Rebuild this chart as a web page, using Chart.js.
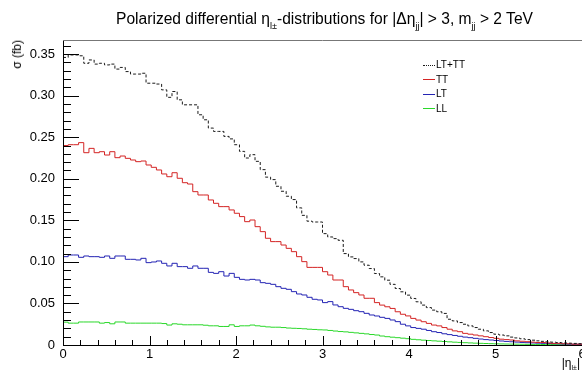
<!DOCTYPE html>
<html>
<head>
<meta charset="utf-8">
<script src="https://cdn.jsdelivr.net/npm/chart.js@4"></script>
<style>
  body { margin: 0; background: #fff; }
  #wrap { position: relative; width: 582px; height: 373px; overflow: hidden; font-family: "Liberation Sans", Arial, sans-serif; color: #000; }
  #wrap canvas { position: absolute; left: 0; top: 0; }
  .title { position: absolute; left: 65px; width: 519px; top: 11px; text-align: center; font-size: 15.6px; line-height: 15px; white-space: nowrap; }
  .title sub, .xtitle sub { font-size: 58%; line-height: 0; vertical-align: -0.5em; }
  .ytitle { position: absolute; left: 10px; top: 40px; font-size: 12px; line-height: 14px; writing-mode: vertical-rl; transform: rotate(180deg); white-space: nowrap; }
  .xtitle { position: absolute; right: 2px; top: 357px; font-size: 12px; line-height: 13px; white-space: nowrap; }
  .legend { position: absolute; left: 423px; top: 58px; font-size: 10px; line-height: 14.5px; }
  .legend .swatch { display: inline-block; width: 12px; height: 0; border-top-width: 1px; vertical-align: middle; margin-right: 1px; }
</style>
</head>
<body>
<div id="wrap">
  <canvas id="etaChart" width="582" height="373"></canvas>
  <div class="title">Polarized differential &eta;<sub>l&plusmn;</sub>-distributions for |&Delta;&eta;<sub>jj</sub>| &gt; 3, m<sub>jj</sub> &gt; 2 TeV</div>
  <div class="ytitle">&sigma; (fb)</div>
  <div class="xtitle">|&eta;<sub>l&plusmn;</sub>|</div>
  <div class="legend" id="legend"></div>
</div>
<script>
// histogram: 100 bins of width 0.06 between |eta| = 0 and 6
const binWidth = 0.06;

const ltPlusTT = [
  0.346, 0.349, 0.349, 0.348, 0.339, 0.343, 0.338, 0.339, 0.337, 0.338,
  0.332, 0.334, 0.329, 0.326, 0.326, 0.327, 0.315, 0.315, 0.314, 0.307,
  0.298, 0.305, 0.295, 0.289, 0.289, 0.289, 0.277, 0.271, 0.261, 0.257,
  0.257, 0.251, 0.248, 0.241, 0.233, 0.225, 0.229, 0.221, 0.211, 0.202,
  0.199, 0.191, 0.185, 0.179, 0.175, 0.165, 0.156, 0.149, 0.148, 0.148,
  0.134, 0.130, 0.128, 0.126, 0.110, 0.106, 0.104, 0.100, 0.096, 0.092,
  0.086, 0.082, 0.078, 0.073, 0.068, 0.064, 0.060, 0.056, 0.052, 0.048,
  0.045, 0.042, 0.040, 0.038, 0.031, 0.029, 0.027, 0.025, 0.023, 0.021,
  0.019, 0.017, 0.015, 0.013, 0.012, 0.011, 0.0095, 0.0085, 0.0075, 0.0065,
  0.0058, 0.005, 0.0044, 0.0038, 0.0034, 0.003, 0.0026, 0.0022, 0.0019, 0.0016
];

const tt = [
  0.240, 0.241, 0.241, 0.2435, 0.2314, 0.2366, 0.2314, 0.2326, 0.2286, 0.2326,
  0.2254, 0.2274, 0.2246, 0.2226, 0.2206, 0.2214, 0.2166, 0.2138, 0.2106, 0.2058,
  0.2025, 0.2073, 0.2006, 0.1953, 0.1937, 0.1845, 0.1805, 0.1805, 0.1745, 0.1705,
  0.1665, 0.1665, 0.1625, 0.1585, 0.1545, 0.1484, 0.1504, 0.1424, 0.1364, 0.1284,
  0.1244, 0.1244, 0.1203, 0.1163, 0.1123, 0.1063, 0.1003, 0.0934, 0.0934, 0.0934,
  0.0882, 0.0842, 0.0782, 0.0782, 0.0702, 0.0662, 0.0630, 0.0602, 0.0562, 0.0562,
  0.0510, 0.048, 0.046, 0.044, 0.040, 0.037, 0.035, 0.032, 0.030, 0.028,
  0.026, 0.024, 0.023, 0.021, 0.019, 0.017, 0.016, 0.014, 0.013, 0.012,
  0.011, 0.010, 0.009, 0.008, 0.007, 0.0065, 0.006, 0.005, 0.0045, 0.004,
  0.0035, 0.003, 0.003, 0.0025, 0.002, 0.002, 0.0015, 0.0015, 0.001, 0.001
];

const lt = [
  0.1063, 0.1083, 0.1083, 0.1055, 0.1071, 0.1063, 0.1063, 0.1055, 0.1071, 0.1043,
  0.1071, 0.1071, 0.1031, 0.1031, 0.1023, 0.1043, 0.0991, 0.0999, 0.1011, 0.0983,
  0.0951, 0.0983, 0.0943, 0.0943, 0.0923, 0.0951, 0.0923, 0.0923, 0.0874, 0.0862,
  0.0882, 0.0830, 0.0862, 0.0814, 0.0790, 0.0782, 0.0790, 0.0782, 0.0750, 0.0742,
  0.0730, 0.0702, 0.0682, 0.0670, 0.0642, 0.0614, 0.0602, 0.0574, 0.0550, 0.0542,
  0.0510, 0.0522, 0.0482, 0.0461, 0.0441, 0.0429, 0.0413, 0.0401, 0.0381, 0.0361,
  0.0349, 0.0333, 0.0320, 0.0301, 0.0281, 0.025, 0.023, 0.021, 0.020, 0.019,
  0.0175, 0.016, 0.015, 0.0135, 0.0125, 0.0115, 0.0105, 0.0095, 0.0088, 0.008,
  0.0072, 0.0065, 0.006, 0.0054, 0.0048, 0.0043, 0.0039, 0.0035, 0.0031, 0.0028,
  0.0025, 0.0022, 0.002, 0.0018, 0.0016, 0.0014, 0.0012, 0.001, 0.0009, 0.0008
];

const ll = [
  0.0275, 0.0263, 0.0263, 0.0277, 0.0277, 0.0277, 0.0277, 0.0263, 0.0270, 0.0255,
  0.0277, 0.0277, 0.0263, 0.0263, 0.0263, 0.0263, 0.0263, 0.0263, 0.0263, 0.0258,
  0.0240, 0.0255, 0.0250, 0.0243, 0.0243, 0.0243, 0.0243, 0.0238, 0.0231, 0.0231,
  0.0223, 0.0223, 0.0243, 0.0223, 0.0231, 0.0231, 0.0240, 0.0231, 0.0225, 0.0218,
  0.0214, 0.0214, 0.0210, 0.0204, 0.0201, 0.0199, 0.0195, 0.0190, 0.0187, 0.0183,
  0.0181, 0.0175, 0.0168, 0.0162, 0.0158, 0.0152, 0.0146, 0.0140, 0.0134, 0.0126,
  0.0120, 0.0108, 0.0100, 0.0094, 0.0088, 0.0082, 0.0076, 0.0068, 0.0063, 0.0058,
  0.0054, 0.0050, 0.0046, 0.0042, 0.0038, 0.0034, 0.0031, 0.0028, 0.0025, 0.0022,
  0.0020, 0.0018, 0.0016, 0.0014, 0.0013, 0.0012, 0.0011, 0.0010, 0.0009, 0.0008,
  0.0007, 0.0007, 0.0006, 0.0005, 0.0005, 0.0004, 0.0004, 0.0003, 0.0003, 0.0003
];

const seriesNames = ['LT+TT', 'TT', 'LT', 'LL'];
const seriesColors = ['#1a1a1a', '#d42424', '#2424b4', '#2ad82a'];
const seriesDash = [[3, 2], [], [], []];

const xTicks = [0, 1, 2, 3, 4, 5, 6];
const yTicks = [0, 0.05, 0.1, 0.15, 0.2, 0.25, 0.3, 0.35];
const yMax = 0.367;

/**
 * Turns bin contents into step points at the lower bin edges, closing the last bin.
 */
function toSteps(values) {
    const pts = values.map((v, i) => ({ x: i * binWidth, y: v }));
    pts.push({ x: values.length * binWidth, y: values[values.length - 1] });
    return pts;
}

// inward ticks and frame, ROOT style
const rootFrame = {
    id: 'rootFrame',
    afterDraw(chart) {
        const { ctx, chartArea: a, scales: { x, y } } = chart;
        ctx.save();
        ctx.lineWidth = 1;
        ctx.strokeStyle = '#000';
        ctx.beginPath();
        for (let k = 0; k <= 30; k++) {
            const px = Math.round(x.getPixelForValue(k * 0.2)) + 0.5;
            ctx.moveTo(px, a.bottom);
            ctx.lineTo(px, a.bottom - (k % 5 === 0 ? 9 : 5));
        }
        for (let k = 0; k * 0.01 <= yMax; k++) {
            const py = Math.round(y.getPixelForValue(k * 0.01)) + 0.5;
            ctx.moveTo(a.left, py);
            ctx.lineTo(a.left + (k % 5 === 0 ? 16 : 8), py);
        }
        ctx.moveTo(a.left + 0.5, a.top);
        ctx.lineTo(a.left + 0.5, a.bottom);
        ctx.moveTo(a.left, a.bottom + 0.5);
        ctx.lineTo(a.right, a.bottom + 0.5);
        ctx.stroke();
        ctx.strokeStyle = '#777';
        ctx.beginPath();
        ctx.moveTo(a.left, a.top + 0.5);
        ctx.lineTo(a.right, a.top + 0.5);
        ctx.stroke();
        ctx.restore();
    }
};

function createHistChart() {
    const ctx = document.getElementById('etaChart').getContext('2d');
    const allSeries = [ltPlusTT, tt, lt, ll];
    return new Chart(ctx, {
        type: 'line',
        data: {
            datasets: allSeries.map((vals, i) => ({
                label: seriesNames[i],
                data: toSteps(vals),
                borderColor: seriesColors[i],
                borderDash: seriesDash[i],
                borderWidth: 1,
                pointRadius: 0,
                stepped: 'before',
                fill: false
            }))
        },
        options: {
            responsive: false,
            animation: false,
            layout: { padding: { top: 40, right: 0, left: 0, bottom: 0 } },
            plugins: { legend: { display: false }, title: { display: false }, tooltip: { enabled: false } },
            scales: {
                x: {
                    type: 'linear',
                    min: 0, max: 6,
                    grid: { display: false, drawTicks: false },
                    border: { display: false },
                    afterBuildTicks: s => { s.ticks = xTicks.map(v => ({ value: v })); },
                    afterFit: s => { s.height = 28; s.paddingLeft = 0; s.paddingRight = 0; },
                    ticks: { padding: 2, color: '#000', maxRotation: 0, font: { family: 'Liberation Sans', size: 13 } }
                },
                y: {
                    type: 'linear',
                    min: 0, max: yMax,
                    grid: { display: false, drawTicks: false },
                    border: { display: false },
                    afterBuildTicks: s => { s.ticks = yTicks.map(v => ({ value: v })); },
                    afterFit: s => { s.width = 63; s.paddingTop = 0; s.paddingBottom = 0; },
                    ticks: { padding: 8, color: '#000', font: { family: 'Liberation Sans', size: 13 } }
                }
            }
        },
        plugins: [rootFrame]
    });
}

function buildLegend() {
    const box = document.getElementById('legend');
    seriesNames.forEach((name, i) => {
        const row = document.createElement('div');
        const sw = document.createElement('span');
        sw.className = 'swatch';
        sw.style.borderTopStyle = seriesDash[i].length ? 'dotted' : 'solid';
        sw.style.borderTopColor = seriesColors[i];
        row.appendChild(sw);
        row.appendChild(document.createTextNode(name));
        box.appendChild(row);
    });
}

buildLegend();
window.histChart = createHistChart();
</script>
</body>
</html>
